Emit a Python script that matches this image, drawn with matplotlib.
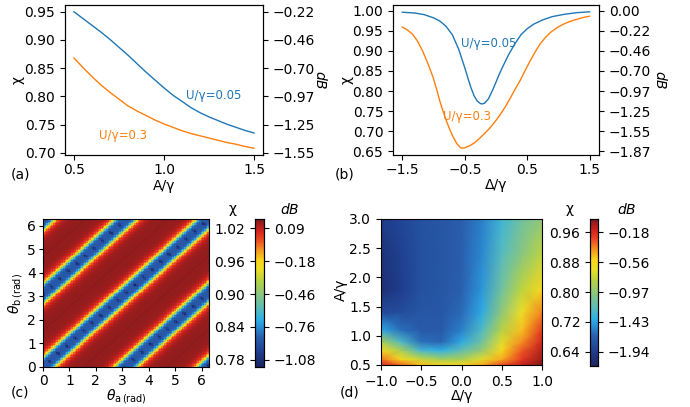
import numpy as np
import matplotlib
matplotlib.use("Agg")
import matplotlib.pyplot as plt
from matplotlib.colors import LinearSegmentedColormap

# ---------------- data ----------------
# (a) chi vs A/gamma
a_x = [0.50, 0.55, 0.60, 0.65, 0.70, 0.75, 0.80, 0.85, 0.90, 0.95, 1.00,
       1.05, 1.10, 1.15, 1.20, 1.25, 1.30, 1.35, 1.40, 1.45, 1.50]
a_u005 = [0.950, 0.938, 0.926, 0.914, 0.901, 0.887, 0.873, 0.858, 0.843, 0.829, 0.815,
          0.802, 0.791, 0.780, 0.771, 0.7635, 0.757, 0.7505, 0.745, 0.7395, 0.735]
a_u03 = [0.868, 0.851, 0.835, 0.820, 0.807, 0.795, 0.783, 0.774, 0.766, 0.758, 0.751,
         0.745, 0.739, 0.734, 0.730, 0.726, 0.722, 0.718, 0.715, 0.711, 0.708]

# (b) chi vs Delta/gamma
b_x005 = [-1.50, -1.30, -1.15, -1.00, -0.90, -0.80, -0.70, -0.60, -0.50, -0.45, -0.40,
          -0.35, -0.30, -0.25, -0.22, -0.18, -0.12, -0.05, 0.00, 0.05, 0.10, 0.15,
          0.20, 0.30, 0.40, 0.50, 0.60, 0.75, 0.90, 1.10, 1.30, 1.50]
b_u005 = [0.996, 0.994, 0.990, 0.982, 0.974, 0.961, 0.940, 0.905, 0.858, 0.832, 0.808,
          0.788, 0.775, 0.769, 0.768, 0.770, 0.781, 0.804, 0.822, 0.841, 0.858, 0.874,
          0.890, 0.917, 0.940, 0.955, 0.966, 0.977, 0.985, 0.991, 0.995, 0.997]
b_x03 = [-1.50, -1.42, -1.34, -1.26, -1.18, -1.10, -1.01, -0.95, -0.90, -0.85, -0.80,
         -0.75, -0.69, -0.63, -0.58, -0.55, -0.50, -0.42, -0.34, -0.26, -0.18, -0.10,
         0.00, 0.065, 0.15, 0.227, 0.30, 0.389, 0.47, 0.55, 0.63, 0.71, 0.79, 0.875,
         0.98, 1.09, 1.20, 1.31, 1.40, 1.50]
b_u03 = [0.959, 0.952, 0.942, 0.925, 0.901, 0.872, 0.835, 0.804, 0.775, 0.751, 0.728,
         0.708, 0.687, 0.670, 0.661, 0.658, 0.659, 0.664, 0.672, 0.683, 0.695, 0.708,
         0.727, 0.741, 0.761, 0.782, 0.803, 0.827, 0.852, 0.876, 0.898, 0.918, 0.933, 0.946,
         0.958, 0.967, 0.974, 0.979, 0.983, 0.986]

a_ticks = [0.70, 0.75, 0.80, 0.85, 0.90, 0.95]
a_db_labels = ['−1.55', '−1.25', '−0.97', '−0.70', '−0.46', '−0.22']
b_ticks = [0.65, 0.70, 0.75, 0.80, 0.85, 0.90, 0.95, 1.00]
b_db_labels = ['−1.87', '−1.55', '−1.25', '−0.97', '−0.70', '−0.46', '−0.22', '0.00']

# (c) chi across a stripe: distance from stripe centre (rad) -> chi
c_dist = [0.0, 0.15, 0.25, 0.30, 0.34, 0.38, 0.43, 0.48, 0.54, 0.60, 0.70, 0.85, 1.05, 1.5708]
c_chi = [0.815, 0.818, 0.825, 0.840, 0.865, 0.895, 0.935, 0.960, 0.985, 1.000, 1.015, 1.025, 1.030, 1.032]
c_dot_spacing = 0.327   # spacing of dark dots along stripes (in theta_a)
c_dot_first = 0.22
c_dot_depth = 0.045
c_ticks = [0.78, 0.84, 0.90, 0.96, 1.02]
c_db_labels = ['−1.08', '−0.76', '−0.46', '−0.18', '0.09']
c_lim = (0.767, 1.037)

# (d) chi on a (A/gamma, Delta/gamma) grid
d_delta = [-1.0, -0.75, -0.5, -0.25, 0.0, 0.25, 0.5, 0.75, 1.0]
d_A = [0.5, 0.6, 0.75, 0.9, 1.1, 1.4, 1.8, 2.4, 3.0]
d_chi = [
    [0.965, 0.930, 0.895, 0.880, 0.880, 0.905, 0.940, 0.970, 0.995],
    [0.925, 0.880, 0.840, 0.815, 0.820, 0.855, 0.905, 0.950, 0.985],
    [0.880, 0.820, 0.745, 0.730, 0.765, 0.805, 0.880, 0.935, 0.975],
    [0.820, 0.750, 0.690, 0.685, 0.725, 0.775, 0.855, 0.915, 0.965],
    [0.725, 0.690, 0.675, 0.675, 0.700, 0.750, 0.830, 0.895, 0.950],
    [0.655, 0.660, 0.670, 0.672, 0.688, 0.725, 0.800, 0.865, 0.920],
    [0.620, 0.640, 0.665, 0.670, 0.682, 0.712, 0.775, 0.835, 0.885],
    [0.625, 0.645, 0.665, 0.670, 0.680, 0.705, 0.755, 0.795, 0.835],
    [0.640, 0.650, 0.665, 0.670, 0.680, 0.700, 0.740, 0.775, 0.800],
]
d_ticks = [0.64, 0.72, 0.80, 0.88, 0.96]
d_db_labels = ['−1.94', '−1.43', '−0.97', '−0.56', '−0.18']
d_lim = (0.602, 0.996)

# ---------------- style ----------------
plt.rcParams['font.family'] = ['DejaVu Sans']
plt.rcParams['font.size'] = 10
plt.rcParams['mathtext.fontset'] = 'dejavusans'

cmap = LinearSegmentedColormap.from_list("custom", [
    (0.00, "#1c2560"), (0.10, "#1f3f8f"), (0.20, "#2a5fae"), (0.27, "#2b8fd6"),
    (0.32, "#2fb0e8"), (0.40, "#5dbdb8"), (0.50, "#8fc77a"), (0.58, "#b5d245"),
    (0.66, "#ecdf26"), (0.72, "#f9d71c"), (0.78, "#f6a020"), (0.86, "#ec4a24"),
    (0.92, "#d7231f"), (1.00, "#7d1a1c")])

W, H = 690, 407
fig = plt.figure(figsize=(6.9, 4.07), dpi=100)


def px_axes(l, t, r, b):
    return fig.add_axes([l / W, 1 - b / H, (r - l) / W, (b - t) / H])


def place_xlabel(ax, text, x, y):
    ax.set_xlabel(text)
    lab = ax.xaxis.label
    lab.set_va('center')
    lab.set_ha('center')
    ax.xaxis.set_label_coords(x / W, 1 - y / H, transform=fig.transFigure)


def place_ylabel(axis_obj, text, x, y, rotation=90):
    axis_obj.set_label_text(text)
    lab = axis_obj.label
    lab.set_rotation(rotation)
    lab.set_rotation_mode('anchor')
    lab.set_va('center')
    lab.set_ha('center')
    axis_obj.set_label_coords(x / W, 1 - y / H, transform=fig.transFigure)


# ---------------- (a) ----------------
ax = px_axes(65, 5, 263, 155)
ax.plot(a_x, a_u005, color='C0', lw=1.0)
ax.plot(a_x, a_u03, color='C1', lw=1.0)
ax.set_xticks([0.5, 1.0, 1.5])
ax.set_yticks(a_ticks)
ax.tick_params(axis='x', pad=2.5)
place_ylabel(ax.yaxis, 'χ', 18, 80)
place_xlabel(ax, 'A/γ', 164, 186)
ax.text(1.12, 0.801, 'U/γ=0.05', color='C0', fontsize=8.5, va='center')
ax.text(0.638, 0.730, 'U/γ=0.3', color='C1', fontsize=8.5, va='center')
ax2 = ax.twinx()
ax2.set_ylim(ax.get_ylim())
ax2.set_yticks(a_ticks)
ax2.set_yticklabels(a_db_labels)
place_ylabel(ax2.yaxis, '$dB$', 320, 80, rotation=270)

# ---------------- (b) ----------------
bx = px_axes(393, 5, 599, 155)
bx.plot(b_x005, b_u005, color='C0', lw=1.0)
bx.plot(b_x03, b_u03, color='C1', lw=1.0)
bx.set_xticks([-1.5, -0.5, 0.5, 1.5])
bx.set_yticks(b_ticks)
bx.tick_params(axis='x', pad=2.5)
place_ylabel(bx.yaxis, 'χ', 347, 80)
place_xlabel(bx, 'Δ/γ', 496, 185)
bx.text(-0.561, 0.919, 'U/γ=0.05', color='C0', fontsize=8.5, va='center')
bx.text(-0.846, 0.737, 'U/γ=0.3', color='C1', fontsize=8.5, va='center')
bx2 = bx.twinx()
bx2.set_ylim(bx.get_ylim())
bx2.set_yticks(b_ticks)
bx2.set_yticklabels(b_db_labels)
place_ylabel(bx2.yaxis, '$dB$', 660, 80, rotation=270)

# ---------------- (c) ----------------
cx = px_axes(43, 219, 209, 367)
th = np.linspace(0, 2 * np.pi, 100)
TA, TB = np.meshgrid(th, th)
dd = np.mod(TB - TA, np.pi)
dist = np.minimum(dd, np.pi - dd)
field_c = np.interp(dist, c_dist, c_chi)
phase = np.cos(np.pi * (TA + TB - 2 * c_dot_first) / c_dot_spacing)
dots = np.exp(-(dist / 0.12) ** 2) * np.clip(phase, 0, None) ** 4
field_c = field_c - c_dot_depth * dots
imc = cx.imshow(field_c, origin='lower', extent=[0, 2 * np.pi, 0, 2 * np.pi],
                aspect='auto', cmap=cmap, vmin=c_lim[0], vmax=c_lim[1],
                interpolation='nearest')
cx.set_xticks(range(7))
cx.set_yticks(range(7))
cx.tick_params(axis='both', length=3, pad=2)
place_xlabel(cx, r'$\theta_{\mathrm{a}\,\mathrm{(rad)}}$', 126, 397)
place_ylabel(cx.yaxis, r'$\theta_{\mathrm{b}\,\mathrm{(rad)}}$', 16, 293)

ccax = px_axes(255, 219, 264, 367)
cb = fig.colorbar(imc, cax=ccax)
ccax.yaxis.set_ticks_position('left')
cb.set_ticks(c_ticks)
cb.set_ticklabels([f"{v:.2f}" for v in c_ticks])
cc2 = ccax.twinx()
cc2.set_ylim(c_lim)
cc2.set_yticks(c_ticks)
cc2.set_yticklabels(c_db_labels)
fig.text(233 / W, 1 - 209 / H, 'χ', ha='center', va='center')
fig.text(290 / W, 1 - 209 / H, '$dB$', ha='center', va='center')

# ---------------- (d) ----------------
dx = px_axes(381, 219, 542, 365)
imd = dx.pcolormesh(d_delta, d_A, np.array(d_chi), shading='gouraud', cmap=cmap,
                    vmin=d_lim[0], vmax=d_lim[1])
dx.set_xlim(-1, 1)
dx.set_ylim(0.5, 3.0)
dx.set_xticks([-1.0, -0.5, 0.0, 0.5, 1.0])
dx.set_yticks([0.5, 1.0, 1.5, 2.0, 2.5, 3.0])
place_xlabel(dx, 'Δ/γ', 462, 396)
place_ylabel(dx.yaxis, 'A/γ', 341, 290)

dcax = px_axes(590, 219, 598, 366)
cbd = fig.colorbar(imd, cax=dcax)
dcax.yaxis.set_ticks_position('left')
cbd.set_ticks(d_ticks)
cbd.set_ticklabels([f"{v:.2f}" for v in d_ticks])
dc2 = dcax.twinx()
dc2.set_ylim(d_lim)
dc2.set_yticks(d_ticks)
dc2.set_yticklabels(d_db_labels)
fig.text(570 / W, 1 - 209 / H, 'χ', ha='center', va='center')
fig.text(627 / W, 1 - 209 / H, '$dB$', ha='center', va='center')

# panel labels
fig.text(20 / W, 1 - 174 / H, '(a)', ha='center', va='center')
fig.text(345 / W, 1 - 174 / H, '(b)', ha='center', va='center')
fig.text(20 / W, 1 - 393 / H, '(c)', ha='center', va='center')
fig.text(350 / W, 1 - 392 / H, '(d)', ha='center', va='center')

fig.savefig('out.png', dpi=100)
